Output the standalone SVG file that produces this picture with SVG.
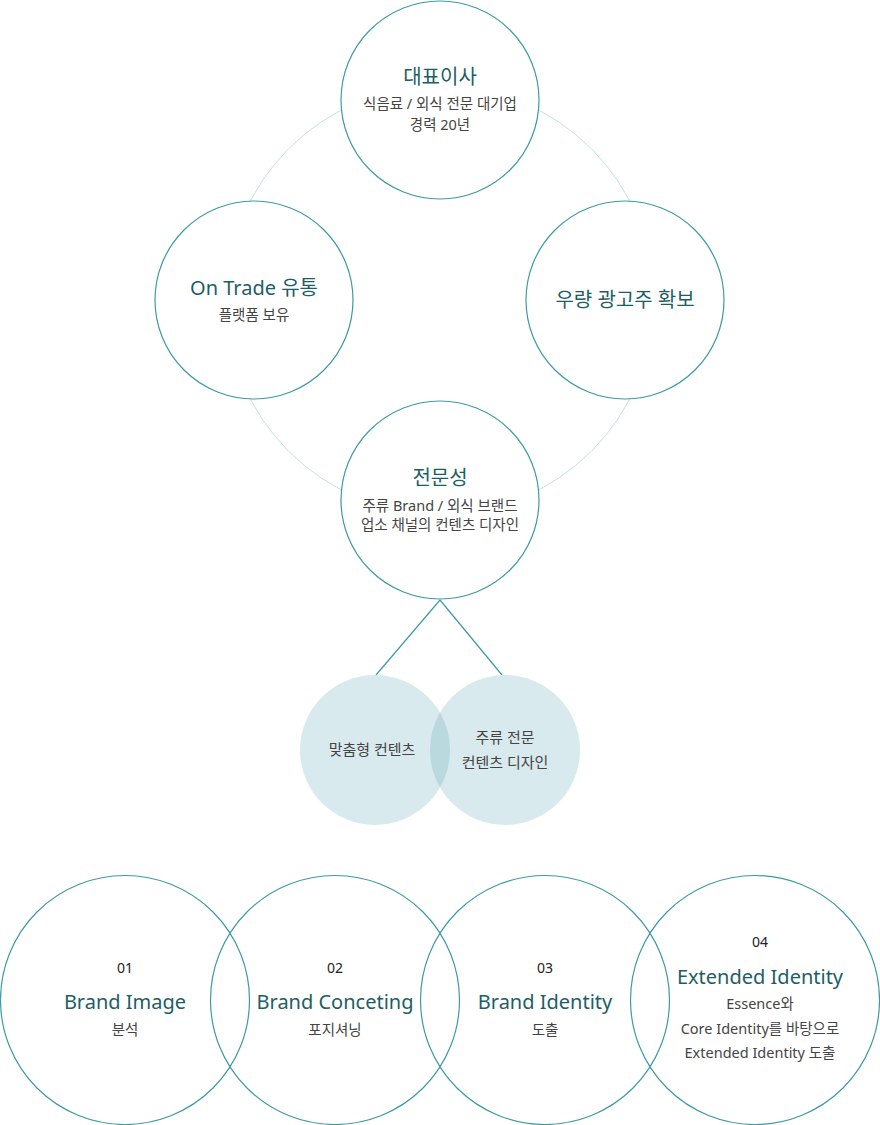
<svg xmlns="http://www.w3.org/2000/svg" width="880" height="1125" viewBox="0 0 880 1125">
<style>
.node{fill:#fff;stroke:#3e9aa6;stroke-width:1.2}
.ring{fill:none;stroke:#c6e1e1;stroke-width:1}
.conn{stroke:#3e9aa6;stroke-width:1.2;fill:none}
.venn{fill:#d9eaee}
.lens{fill:#bad9de}
.step{fill:none;stroke:#3e9aa6;stroke-width:1.2}
text{font-family:"Noto Sans","Noto Sans CJK KR",sans-serif;text-anchor:middle}
.t{fill:#1d5e66;font-size:20px}
.b{fill:#444;font-size:14.5px}
.v{fill:#444;font-size:15px}
.n{fill:#222;font-size:14px}
</style>
<circle class="ring" cx="440" cy="300" r="214"/>
<g id="connectors">
<line class="conn" x1="440" y1="600" x2="376" y2="675"/>
<line class="conn" x1="440" y1="600" x2="502" y2="675"/>
</g>
<g id="ceo">
<circle class="node" cx="440" cy="100" r="99"/>
<text class="t" x="440" y="84">대표이사</text>
<text class="b" x="440" y="109">식음료 / 외식 전문 대기업</text>
<text class="b" x="440" y="130">경력 20년</text>
</g>
<g id="ontrade">
<circle class="node" cx="254" cy="300" r="99"/>
<text class="t" x="254" y="295">On Trade 유통</text>
<text class="b" x="254" y="320">플랫폼 보유</text>
</g>
<g id="advertiser">
<circle class="node" cx="625" cy="300" r="99"/>
<text class="t" x="625" y="307">우량 광고주 확보</text>
</g>
<g id="expertise">
<circle class="node" cx="440" cy="500" r="99"/>
<text class="t" x="440" y="485">전문성</text>
<text class="b" x="440" y="511">주류 Brand / 외식 브랜드</text>
<text class="b" x="440" y="530">업소 채널의 컨텐츠 디자인</text>
</g>
<g id="custom">
<circle class="venn" cx="375" cy="750" r="75"/>
</g>
<g id="liquor">
<circle class="venn" cx="505" cy="750" r="75"/>
</g>
<path class="lens" d="M440,712.6 A75,75 0 0,1 440,787.4 A75,75 0 0,1 440,712.6 Z"/>
<text class="v" x="372" y="755">맞춤형 컨텐츠</text>
<text class="v" x="505" y="743">주류 전문</text>
<text class="v" x="505" y="768">컨텐츠 디자인</text>
<g id="step1">
<circle class="step" cx="125" cy="1000" r="124.5"/>
<text class="n" x="125" y="973">01</text>
<text class="t" x="125" y="1009">Brand Image</text>
<text class="b" x="125" y="1035">분석</text>
</g>
<g id="step2">
<circle class="step" cx="335" cy="1000" r="124.5"/>
<text class="n" x="335" y="973">02</text>
<text class="t" x="335" y="1009">Brand Conceting</text>
<text class="b" x="335" y="1035">포지셔닝</text>
</g>
<g id="step3">
<circle class="step" cx="545" cy="1000" r="124.5"/>
<text class="n" x="545" y="973">03</text>
<text class="t" x="545" y="1009">Brand Identity</text>
<text class="b" x="545" y="1035">도출</text>
</g>
<g id="step4">
<circle class="step" cx="755" cy="1000" r="124.5"/>
<text class="n" x="760" y="947">04</text>
<text class="t" x="760" y="984">Extended Identity</text>
<text class="b" x="760" y="1009">Essence와</text>
<text class="b" x="760" y="1034">Core Identity를 바탕으로</text>
<text class="b" x="760" y="1058">Extended Identity 도출</text>
</g>
</svg>
